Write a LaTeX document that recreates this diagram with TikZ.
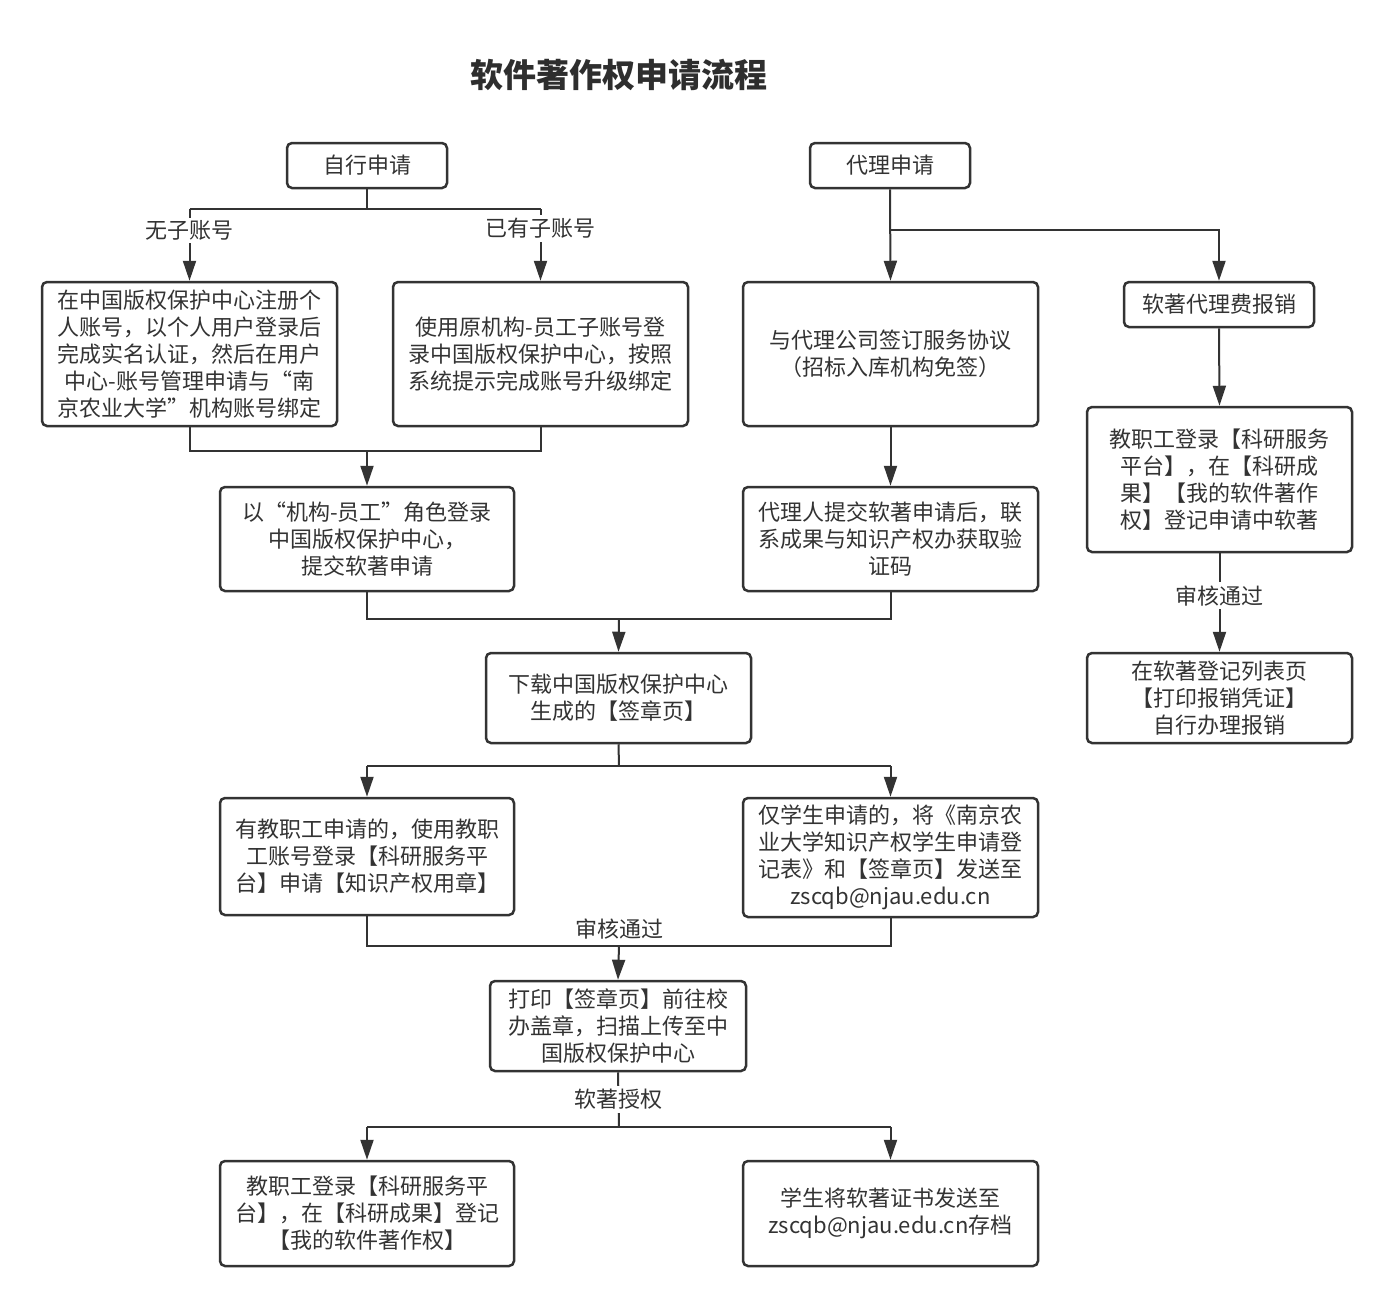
\documentclass[tikz,border=0pt]{standalone}
\usepackage{fontspec}
\setmainfont{Noto Sans CJK SC}
\usetikzlibrary{arrows.meta}
\definecolor{ink}{HTML}{333333}
\definecolor{ttl}{HTML}{2E2E2E}
\tikzset{
  box/.style={draw=ink, line width=1.25pt, rounded corners=2.5pt, fill=white,
    align=center, text=ink, inner sep=0pt, font=\fontsize{11}{13.5}\selectfont},
  conn/.style={draw=ink, line width=1pt},
  arr/.style={conn, -{Triangle[length=10pt,width=6.5pt]}},
  lbl/.style={fill=white, text=ink, inner sep=1.5pt, font=\fontsize{11}{13.5}\selectfont},
}
\begin{document}
\begin{tikzpicture}[x=0.5pt, y=-0.5pt]
\useasboundingbox[fill=white] (0,0) rectangle (1394,1308);
\node[text=ttl, font=\fontsize{16.5}{20}\selectfont\bfseries] (title) at (619,75) {软件著作权申请流程};

\node[box, minimum width=80pt, minimum height=22.5pt] (s1) at (367,165.5) {自行申请};
\node[box, minimum width=80pt, minimum height=22.5pt] (s2) at (890,165.5) {代理申请};

\node[box, minimum width=147.5pt, minimum height=72pt] (A) at (189.5,354)
  {在中国版权保护中心注册个\\人账号，以个人用户登录后\\完成实名认证，然后在用户\\中心-账号管理申请与“南\\京农业大学”机构账号绑定};
\node[box, minimum width=147.5pt, minimum height=72pt] (B) at (540.5,354)
  {使用原机构-员工子账号登\\录中国版权保护中心，按照\\系统提示完成账号升级绑定};
\node[box, minimum width=147.5pt, minimum height=72pt] (D) at (890.5,354)
  {与代理公司签订服务协议\\（招标入库机构免签）};
\node[box, minimum width=95pt, minimum height=22.5pt] (R) at (1219,304.5) {软著代理费报销};

\node[box, minimum width=147pt, minimum height=52pt] (C) at (367,539)
  {以“机构-员工”角色登录\\中国版权保护中心，\\提交软著申请};
\node[box, minimum width=147.5pt, minimum height=52pt] (E) at (890.5,539)
  {代理人提交软著申请后，联\\系成果与知识产权办获取验\\证码};
\node[box, minimum width=132.5pt, minimum height=72.5pt] (F) at (1219.5,479.5)
  {教职工登录【科研服务\\平台】，在【科研成\\果】【我的软件著作\\权】登记申请中软著};
\node[box, minimum width=132.5pt, minimum height=45pt] (G) at (1219.5,698)
  {在软著登记列表页\\【打印报销凭证】\\自行办理报销};

\node[box, minimum width=132.5pt, minimum height=45pt] (H) at (618.5,698)
  {下载中国版权保护中心\\生成的【签章页】};

\node[box, minimum width=147pt, minimum height=58.5pt] (I) at (367,856.5)
  {有教职工申请的，使用教职\\工账号登录【科研服务平\\台】申请【知识产权用章】};
\node[box, minimum width=147.5pt, minimum height=59.5pt] (J) at (890.5,857.5)
  {仅学生申请的，将《南京农\\业大学知识产权学生申请登\\记表》和【签章页】发送至\\zscqb@njau.edu.cn};

\node[box, minimum width=128pt, minimum height=45pt] (K) at (618,1026)
  {打印【签章页】前往校\\办盖章，扫描上传至中\\国版权保护中心};

\node[box, minimum width=147pt, minimum height=52.5pt] (L) at (367,1213.5)
  {教职工登录【科研服务平\\台】，在【科研成果】登记\\【我的软件著作权】};
\node[box, minimum width=147.5pt, minimum height=52.5pt] (M) at (890.5,1213.5)
  {学生将软著证书发送至\\zscqb@njau.edu.cn存档};

% junction points
\coordinate (j1) at (367,209);
\coordinate (j2) at (367,451);
\coordinate (j3) at (890,230);
\coordinate (j4) at (619,619);
\coordinate (j5) at (619,766);
\coordinate (j6) at (619,946);
\coordinate (j7) at (619,1127);

% self application branch
\draw[conn] (s1.south) -- (j1);
\draw[conn] (A.north |- j1) -- (B.north |- j1);
\draw[arr] (A.north |- j1) -- node[lbl, pos=0.3] {无子账号} (A.north);
\draw[arr] (B.north |- j1) -- node[lbl, pos=0.27] {已有子账号} (B.north);
\draw[conn] (A.south) -- (A.south |- j2) -- (B.south |- j2) -- (B.south);
\draw[arr] (j2) -- (C.north);

% agent branch
\draw[arr] (s2.south) -- (D.north);
\draw[arr] (j3) -| (R.north);
\draw[arr] (R.south) -- (F.north);
\draw[arr] (F.south) -- node[lbl, pos=0.43] {审核通过} (G.north);
\draw[arr] (D.south) -- (E.north);

% merge to H
\draw[conn] (C.south) -- (C.south |- j4) -- (E.south |- j4) -- (E.south);
\draw[arr] (j4) -- (H.north);

% split to I, J
\draw[conn] (H.south) -- (j5);
\draw[conn] (I.north |- j5) -- (J.north |- j5);
\draw[arr] (I.north |- j5) -- (I.north);
\draw[arr] (J.north |- j5) -- (J.north);

% merge to K
\draw[conn] (I.south) -- (I.south |- j6) -- (J.south |- j6) -- (J.south);
\node[text=ink, font=\fontsize{11}{13.5}\selectfont] (lb6) at (619,929) {审核通过};
\draw[arr] (j6) -- (K.north);

% split to L, M
\draw[conn] (K.south) -- node[lbl, pos=0.5] {软著授权} (j7);
\draw[conn] (L.north |- j7) -- (M.north |- j7);
\draw[arr] (L.north |- j7) -- (L.north);
\draw[arr] (M.north |- j7) -- (M.north);
\end{tikzpicture}
\end{document}
